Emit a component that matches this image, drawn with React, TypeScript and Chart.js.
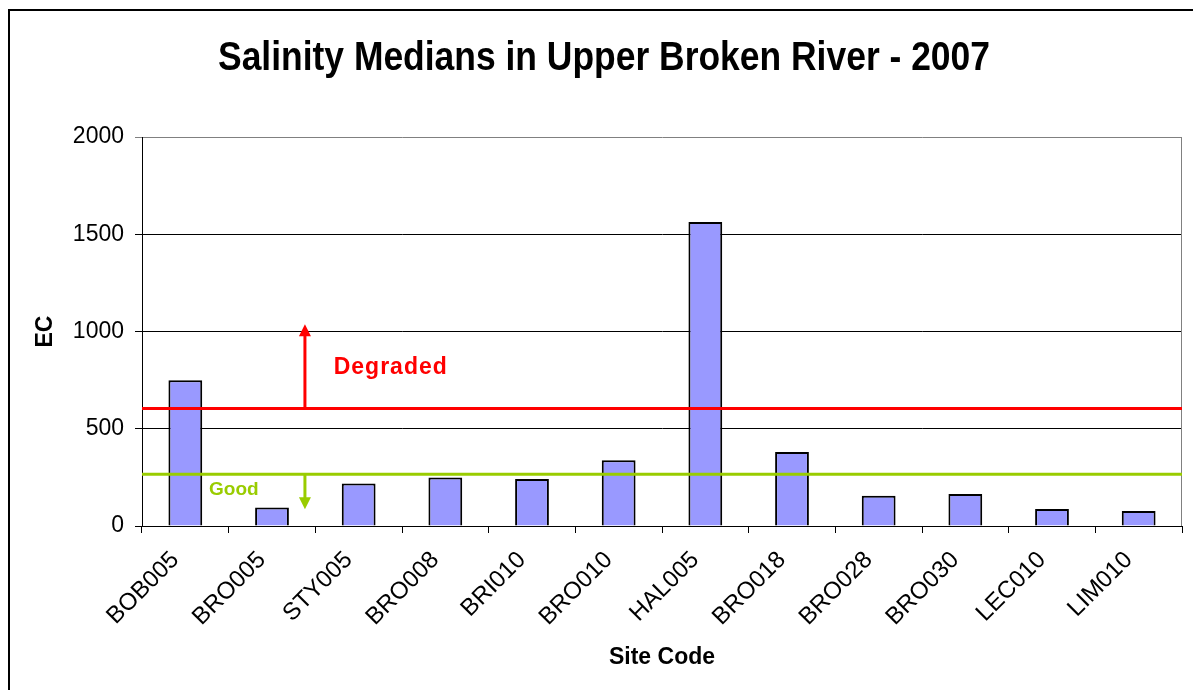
import React, { useEffect, useRef } from 'react';
import { Chart, registerables } from 'chart.js';

Chart.register(...registerables);

const siteCodes = ['BOB005', 'BRO005', 'STY005', 'BRO008', 'BRI010', 'BRO010', 'HAL005', 'BRO018', 'BRO028', 'BRO030', 'LEC010', 'LIM010'];
const ecMedians = [750, 95, 218, 250, 242, 338, 1563, 380, 156, 165, 87, 77];
const yTickValues = [0, 500, 1000, 1500, 2000];

const degradedThreshold = 604;
const goodThreshold = 266;
const degradedArrowTip = 1037;
const goodArrowTip = 86;
const arrowSite = 1.38;
const titleText = 'Salinity Medians in Upper Broken River - 2007';
const degradedText = 'Degraded';
const goodText = 'Good';
const degradedTextAt = { site: 2.37, ec: 815 };
const goodTextAt = { site: 0.56, ec: 188 };

const FONT = '"Liberation Sans", Arial, Helvetica, sans-serif';
const RED = '#FF0000';
const GREEN = '#99CC00';

function arrow(ctx: CanvasRenderingContext2D, x: number, y0: number, y1: number, color: string) {
  const dir = y1 < y0 ? -1 : 1;
  const head = 12;
  ctx.strokeStyle = color;
  ctx.fillStyle = color;
  ctx.lineWidth = 3;
  ctx.beginPath();
  ctx.moveTo(x, y0);
  ctx.lineTo(x, y1 - dir * head + dir * 1);
  ctx.stroke();
  ctx.beginPath();
  ctx.moveTo(x, y1);
  ctx.lineTo(x - 6, y1 - dir * head);
  ctx.lineTo(x + 6, y1 - dir * head);
  ctx.closePath();
  ctx.fill();
}

const overlayPlugin = {
  id: 'overlay',
  afterDatasetsDraw(chart: any) {
    const { ctx, chartArea: a, scales } = chart;
    const x = scales.x;
    const y = scales.y;
    ctx.save();
    // plot area right border
    ctx.strokeStyle = '#808080';
    ctx.lineWidth = 1;
    ctx.beginPath();
    ctx.moveTo(Math.round(a.right) - 0.5, a.top);
    ctx.lineTo(Math.round(a.right) - 0.5, a.bottom);
    ctx.stroke();

    // threshold lines
    const yd = y.getPixelForValue(degradedThreshold);
    const yg = y.getPixelForValue(goodThreshold);
    ctx.lineWidth = 3;
    ctx.strokeStyle = RED;
    ctx.beginPath();
    ctx.moveTo(a.left, yd);
    ctx.lineTo(a.right, yd);
    ctx.stroke();
    ctx.strokeStyle = GREEN;
    ctx.beginPath();
    ctx.moveTo(a.left, yg);
    ctx.lineTo(a.right, yg);
    ctx.stroke();

    const ax = x.getPixelForValue(arrowSite);
    arrow(ctx, ax, yd, y.getPixelForValue(degradedArrowTip), RED);
    arrow(ctx, ax, yg, y.getPixelForValue(goodArrowTip), GREEN);

    ctx.textAlign = 'center';
    ctx.textBaseline = 'middle';
    ctx.font = `bold 23px ${FONT}`;
    (ctx as any).letterSpacing = '1px';
    ctx.fillStyle = RED;
    ctx.fillText(degradedText, x.getPixelForValue(degradedTextAt.site), y.getPixelForValue(degradedTextAt.ec));
    ctx.font = `bold 19px ${FONT}`;
    (ctx as any).letterSpacing = '0px';
    ctx.fillStyle = GREEN;
    ctx.fillText(goodText, x.getPixelForValue(goodTextAt.site), y.getPixelForValue(goodTextAt.ec));
    ctx.restore();
  },
  afterDraw(chart: any) {
    const { ctx } = chart;
    ctx.save();
    // title (slightly condensed bold face)
    ctx.font = `bold 41px ${FONT}`;
    ctx.fillStyle = '#000';
    ctx.textAlign = 'center';
    ctx.textBaseline = 'alphabetic';
    const w = ctx.measureText(titleText).width;
    const sx = 772 / w;
    ctx.translate(604, 70);
    ctx.scale(sx, 1);
    ctx.fillText(titleText, 0, 0);
    ctx.restore();

    ctx.save();
    ctx.strokeStyle = '#000';
    ctx.lineWidth = 2;
    ctx.strokeRect(9, 10, 2000, 2000);
    ctx.restore();
  },
};

export default function App() {
  const ref = useRef<HTMLCanvasElement | null>(null);

  useEffect(() => {
    if (!ref.current) return;
    const chart = new Chart(ref.current, {
      type: 'bar',
      data: {
        labels: siteCodes,
        datasets: [
          {
            label: 'EC',
            data: ecMedians,
            backgroundColor: '#9999FF',
            borderColor: '#000000',
            borderWidth: 2,
            categoryPercentage: 1,
            barPercentage: 0.39,
          },
        ],
      },
      options: {
        responsive: false,
        animation: false,
        devicePixelRatio: 1,
        layout: { padding: { left: 0, right: 11, top: 137, bottom: 0 } },
        plugins: {
          legend: { display: false },
          tooltip: { enabled: false },
          title: { display: false },
        },
        scales: {
          x: {
            type: 'category',
            offset: true,
            grid: {
              offset: true,
              drawOnChartArea: false,
              drawTicks: true,
              tickLength: 7,
              color: '#000',
            },
            border: { display: true, color: '#000', width: 1 },
            ticks: {
              color: '#000',
              font: { family: FONT, size: 24 },
              maxRotation: 45,
              minRotation: 45,
              autoSkip: false,
              padding: 13,
              labelOffset: -10,
            },
            title: {
              display: true,
              text: 'Site Code',
              color: '#000',
              font: { family: FONT, size: 23, weight: 'bold' },
              padding: { top: 0, bottom: 19 },
            },
            afterFit(scale: any) {
              scale.height = 164;
            },
          },
          y: {
            min: 0,
            max: 2000,
            afterBuildTicks(scale: any) {
              scale.ticks = yTickValues.map((v) => ({ value: v }));
            },
            grid: {
              color: (c: any) => (c.tick && c.tick.value === 2000 ? '#808080' : '#000'),
              lineWidth: 1,
              drawTicks: true,
              tickLength: 7,
            },
            border: { display: true, color: '#000', width: 1 },
            ticks: {
              color: '#000',
              font: { family: FONT, size: 23 },
              padding: 11,
              callback: (v: any) => String(v),
            },
            title: {
              display: true,
              text: 'EC',
              color: '#000',
              font: { family: FONT, size: 23, weight: 'bold' },
              padding: { top: 32, bottom: 0 },
            },
            afterFit(scale: any) {
              scale.width = 142;
            },
          },
        },
      },
      plugins: [overlayPlugin],
    });
    return () => chart.destroy();
  }, []);

  return (
    <canvas
      ref={ref}
      width={1193}
      height={690}
      style={{ position: 'absolute', left: 0, top: 0, width: '1193px', height: '690px', background: '#fff' }}
    />
  );
}
